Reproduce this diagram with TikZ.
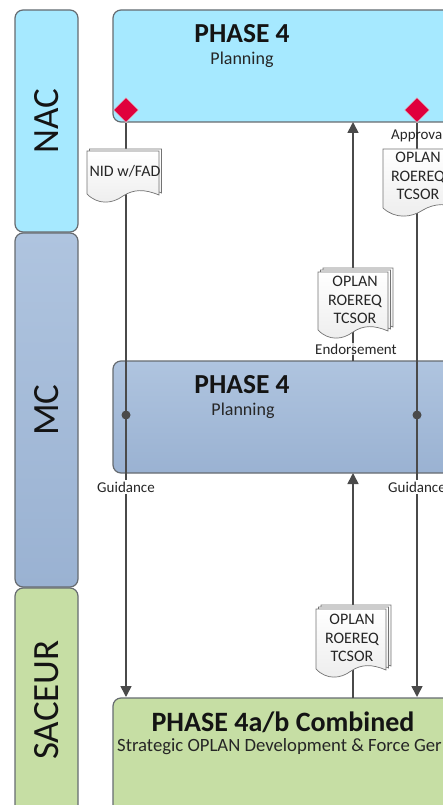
\documentclass[tikz,border=0pt]{standalone}
\usepackage{fontspec}
\setmainfont{Carlito}
\usetikzlibrary{arrows.meta,shapes.geometric}
\pgfdeclarelayer{panels}
\pgfdeclarelayer{links}
\pgfsetlayers{panels,links,main}
\definecolor{nacblue}{HTML}{A6E9FF}
\definecolor{mctop}{HTML}{AFC4DF}
\definecolor{mcbot}{HTML}{9AB2D2}
\definecolor{sacgreen}{HTML}{C6DEA4}
\definecolor{edge}{HTML}{666B70}
\definecolor{wire}{HTML}{4A4A4A}
\definecolor{redd}{HTML}{E0003C}
\tikzset{
  lane/.style={draw=edge,line width=1.2pt,rounded corners=8pt},
  mcfill/.style={top color=mctop,bottom color=mcbot},
  lanetext/.style={rotate=90,font=\fontsize{37}{37}\selectfont,text=black!92,inner sep=0pt},
  wirel/.style={draw=wire,line width=1.6pt},
  arr/.style={wirel,-{Triangle[length=11pt,width=11pt]}},
  dia/.style={diamond,fill=redd,draw=white!85!black,line width=0.5pt,minimum width=25pt,minimum height=25pt,inner sep=0pt},
  dot/.style={circle,fill=wire,minimum size=9pt,inner sep=0pt},
  lab/.style={font=\fontsize{15}{15}\selectfont,text=black!85,inner sep=1pt},
  guide/.style={lab,fill=white,inner xsep=1pt,inner ysep=1.5pt},
  docbox/.style={align=center,font=\fontsize{16}{18.6}\selectfont,text=black!85,inner sep=0pt},
  sheet/.style={draw=black!55,line width=0.7pt,top color=white,bottom color=black!7},
  title/.style={font=\bfseries\fontsize{27.5}{27.5}\selectfont,text=black!92,inner sep=0pt},
  sub/.style={font=\fontsize{18}{18}\selectfont,text=black!85,inner sep=0pt},
}
% sheet outline: left x, top y, width, height
\newcommand{\sheetpath}[4]{%
  \pgfmathsetmacro{\xr}{#1+#3}%
  \pgfmathsetmacro{\yb}{#2+#4}%
  \path[sheet] (#1,#2) -- (\xr,#2) -- (\xr,\yb-8)
    .. controls (#1+0.8*#3,\yb-14) and (#1+0.65*#3,\yb-14) .. (#1+0.5*#3,\yb-7)
    .. controls (#1+0.35*#3,\yb+1) and (#1+0.15*#3,\yb+2) .. (#1,\yb-9) -- cycle;}
\newcommand{\docstack}[5]{% x y w h layers
  \foreach \k in {#5,...,0}{%
    \pgfmathsetmacro{\dx}{\k*2.5}%
    \pgfmathsetmacro{\xx}{#1+\dx}%
    \pgfmathsetmacro{\yy}{#2-\dx*0.8}%
    \sheetpath{\xx}{\yy}{#3}{#4}}}
\begin{document}
\begin{tikzpicture}[x=1pt,y=-1pt]
\useasboundingbox (0,0) rectangle (443,805);
\clip (0,0) rectangle (443,805);
% lanes
\node[lanetext] (nacl) at (47,121) {NAC};
\node[lanetext] (mcl) at (47,410) {MC};
\node[lanetext] (sacl) at (47,700) {SACEUR};
% panel titles
\node[title] (t1) at (242,34) {PHASE 4};
\node[sub] (s1) at (242,60) {Planning};
\node[title] (t2) at (242,385) {PHASE 4};
\node[sub] (s2) at (243,411) {Planning};
\node[title,font=\bfseries\fontsize{28}{28}\selectfont] (t3) at (283,722) {PHASE 4a/b Combined};
\node[sub,anchor=west,font=\fontsize{18.7}{18.7}\selectfont] (s3) at (117,747) {Strategic OPLAN Development \& Force Ger};
% named anchors on panels
\coordinate (nacbotm) at (353,122);
\coordinate (mctopm) at (353,361);
\coordinate (mcbotm) at (353,473);
\coordinate (sactopm) at (353,698);
\coordinate (sacl1) at (126,697);
\coordinate (sacl2) at (417,697);
% markers
\node[dia] (d1) at (126,110) {};
\node[dia] (d2) at (417,110) {};
\node[dot] (m1) at (126,415) {};
\node[dot] (m2) at (417,415) {};
% documents
\docstack{87}{151}{72}{52}{1}
\node[docbox] (doc1) at (125,171) {NID w/FAD};
\sheetpath{383}{149}{80}{68}
\node[docbox] (doc2) at (418,176) {OPLAN\\ROEREQ\\TCSOR};
\docstack{318}{272}{70}{67}{2}
\node[docbox] (doc3) at (355,300) {OPLAN\\ROEREQ\\TCSOR};
\docstack{316}{609}{70}{69}{2}
\node[docbox] (doc4) at (352,638) {OPLAN\\ROEREQ\\TCSOR};
% labels
\node[lab,anchor=west] (appr) at (390,136) {Approva};
\node[guide] (g1) at (126,487) {Guidance};
\node[guide] (g2) at (417,487) {Guidance};
\node[lab,fill=white,fill opacity=.8,text opacity=1] (endo) at (356,349) {Endorsement};
\begin{pgfonlayer}{panels}
\path[lane,fill=nacblue] (15,10) rectangle (78,232);
\path[lane,mcfill] (15,233) rectangle (78,587);
\path[lane,fill=sacgreen] (15,588) rectangle (78,825);
\path[lane,fill=nacblue] (113,10) rectangle (470,122);
\path[lane,mcfill] (113,361) rectangle (470,473);
\path[lane,fill=sacgreen] (113,698) rectangle (470,830);
\end{pgfonlayer}
\begin{pgfonlayer}{links}
\draw[arr] (d1) -- (sacl1);
\draw[arr] (d2) -- (sacl2);
\draw[arr] (mctopm) -- (nacbotm);
\draw[arr] (sactopm) -- (mcbotm);
\end{pgfonlayer}
\end{tikzpicture}
\end{document}
